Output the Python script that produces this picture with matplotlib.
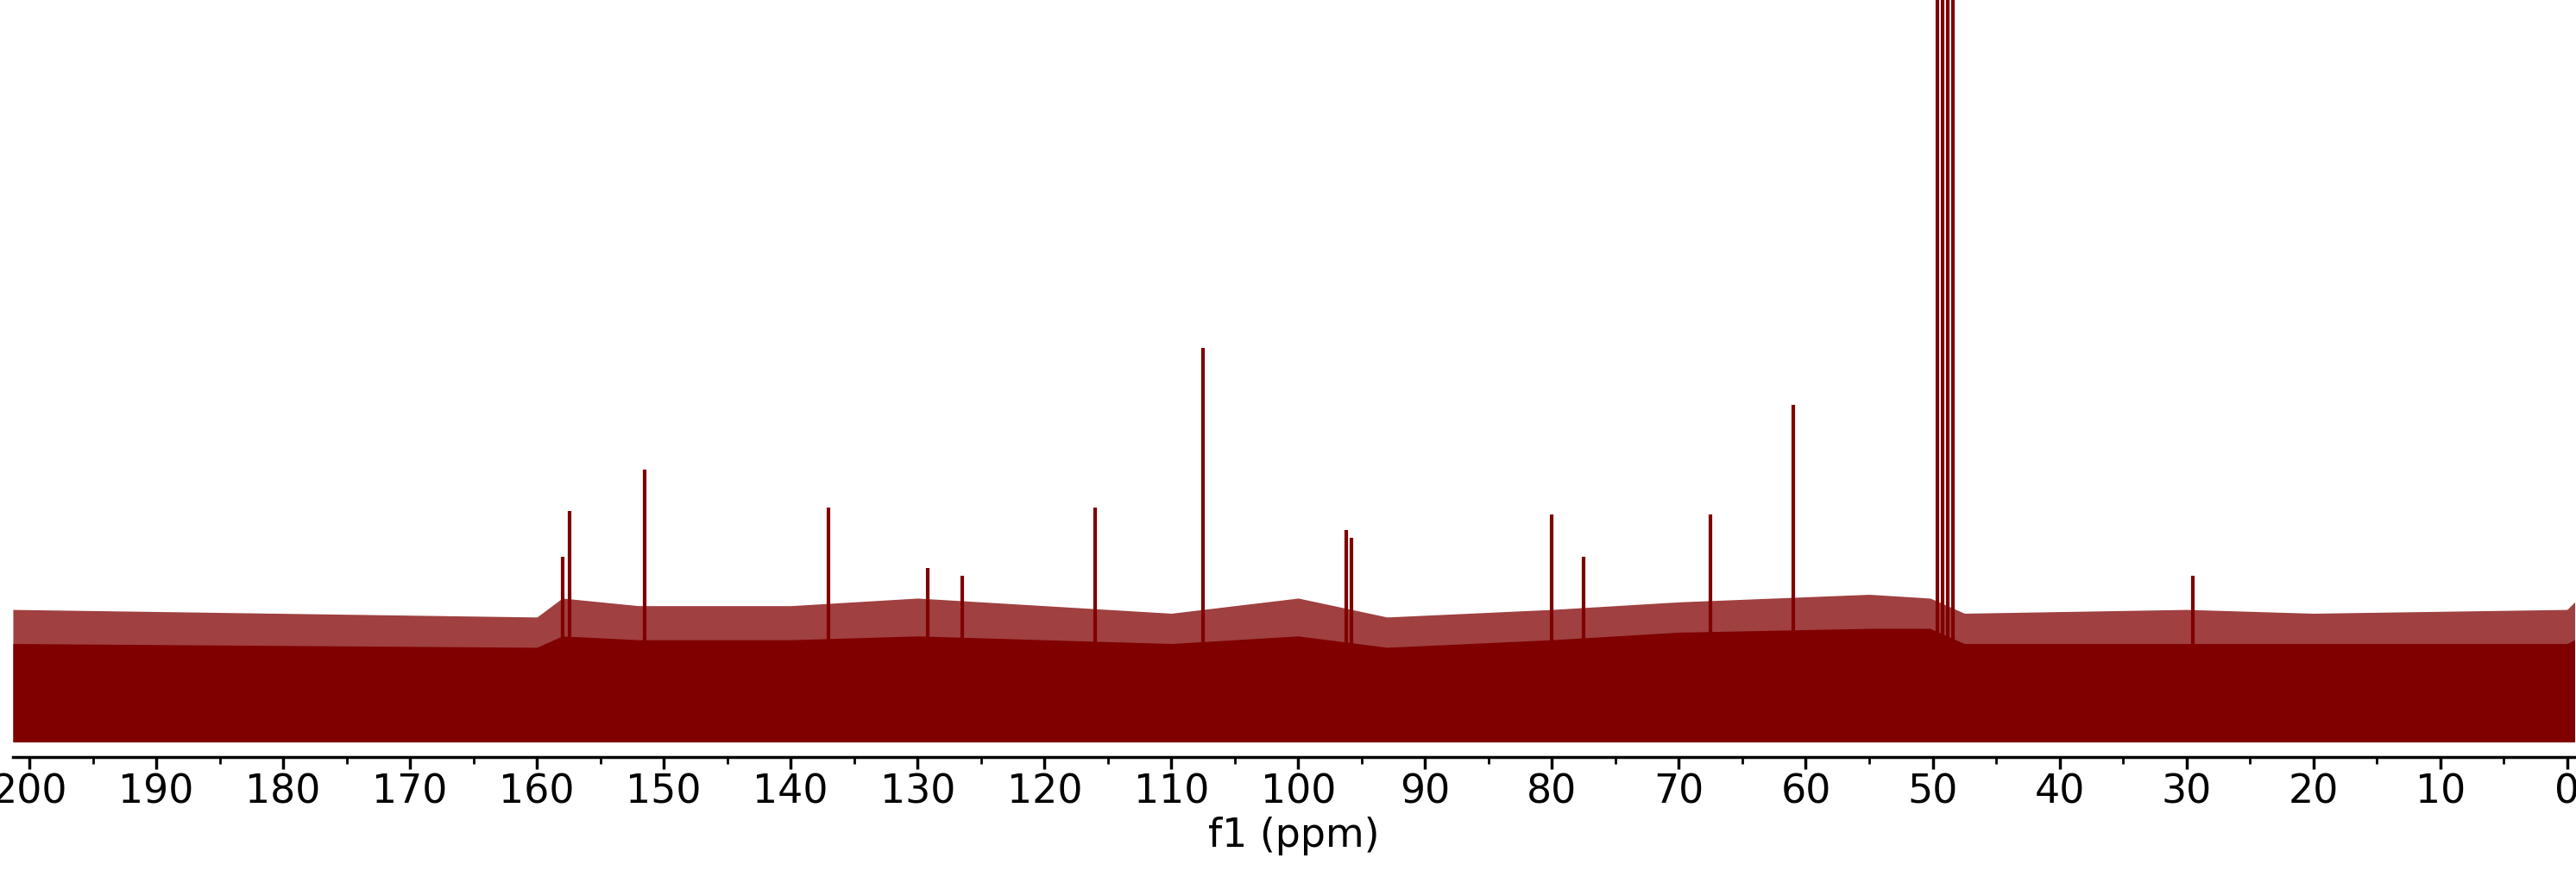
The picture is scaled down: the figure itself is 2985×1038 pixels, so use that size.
import matplotlib
matplotlib.use("Agg")
import matplotlib.pyplot as plt
from matplotlib.ticker import MultipleLocator

# Noise band envelope (ppm, lower, upper)
band_ppm   = [201.3, 160, 158, 152, 140, 130, 110, 100, 93, 80, 70, 55, 50.2, 47.5, 30, 20, 0, -0.6]
band_lo    = [2.0,   2.0, 2.0, 2.0, 2.0, 2.0, 2.0, 2.0, 2.0, 2.0, 2.0, 2.0, 2.0, 2.0, 2.0, 2.0, 2.0, 2.0]
band_hi    = [19.5,  18.5, 21.0, 20.0, 20.0, 21.0, 19.0, 21.0, 18.5, 19.5, 20.5, 21.5, 21.0, 19.0, 19.5, 19.0, 19.5, 20.5]
core_hi    = [15.0,  14.5, 16.0, 15.5, 15.5, 16.0, 15.0, 16.0, 14.5, 15.5, 16.5, 17.0, 17.0, 15.0, 15.0, 15.0, 15.0, 15.5]

# Signal peaks (ppm, height)
peak_ppm = [158.0, 157.4, 151.5, 137.0, 129.2, 126.5, 116.0, 107.5, 96.2, 95.8, 80.0, 77.5, 67.5, 61.0, 49.6, 49.2, 48.8, 48.4, 29.5]
peak_h   = [26.5, 32.5, 38.0, 33.0, 25.0, 24.0, 33.0, 54.0, 30.0, 29.0, 32.0, 26.5, 32.0, 46.5, 110, 110, 110, 110, 24.0]

col = "#800000"
fig = plt.figure(figsize=(29.85, 10.38), dpi=100)
ax = fig.add_axes([0.005, 0.155, 0.9945, 0.845])
ax.fill_between(band_ppm, band_lo, band_hi, color=col, alpha=0.75, lw=0)
ax.fill_between(band_ppm, band_lo[:], core_hi, color=col, lw=0)
ax.vlines(peak_ppm, 2, peak_h, color=col, lw=3)
ax.set_xlim(201.3, -0.6)
ax.set_ylim(0, 100)
for s in ["top", "left", "right"]:
    ax.spines[s].set_visible(False)
ax.spines["bottom"].set_linewidth(2.5)
ax.set_yticks([])
ax.xaxis.set_major_locator(MultipleLocator(10))
ax.xaxis.set_minor_locator(MultipleLocator(5))
ax.tick_params(axis="x", which="major", length=10, width=2.5, labelsize=33)
ax.tick_params(axis="x", which="minor", length=6, width=2)
ax.set_xlabel("f1 (ppm)", fontsize=33)
fig.savefig("out.png", dpi=100)
